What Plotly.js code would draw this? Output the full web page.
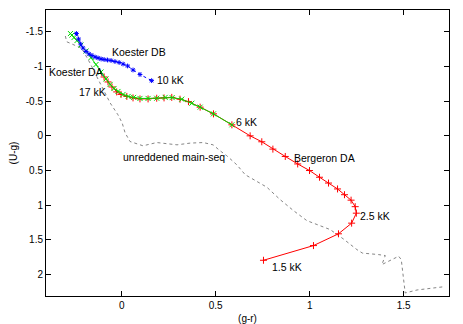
<!DOCTYPE html>
<html>
<head>
<meta charset="utf-8">
<script src="https://cdn.plot.ly/plotly-3.0.1.min.js"></script>
<style>
  html, body { margin: 0; padding: 0; background: #fff; }
  #plot { width: 463px; height: 324px; }
</style>
</head>
<body>
<div id="plot"></div>
<script>
// unreddened main sequence
var msGR = [-0.300, -0.293, -0.213, -0.169, -0.116, -0.062, -0.020, 0.002, 0.018, 0.044, 0.113, 0.186,
            0.294, 0.364, 0.433, 0.486, 0.523, 0.559, 0.612, 0.657, 0.772, 0.843, 0.914, 0.985, 1.109,
            1.180, 1.251, 1.280, 1.366, 1.402, 1.384, 1.473, 1.487, 1.508, 1.571, 1.642, 1.711];
var msUG = [-1.441, -1.359, -1.264, -1.052, -0.764, -0.476, -0.303, -0.187, -0.043, 0.082, 0.144, 0.097,
            0.130, 0.105, 0.097, 0.130, 0.216, 0.288, 0.418, 0.562, 0.742, 0.922, 1.081, 1.225, 1.354,
            1.491, 1.643, 1.693, 1.715, 1.729, 1.859, 1.739, 1.787, 2.269, 2.226, 2.205, 2.180];

// Koester DB
var dbGR = [-0.241, -0.230, -0.219, -0.206, -0.190, -0.174, -0.158, -0.142, -0.126, -0.110,
            -0.094, -0.076, -0.057, -0.036, -0.014, 0.007, 0.031, 0.060, 0.097, 0.159];
var dbUG = [-1.477, -1.398, -1.326, -1.268, -1.218, -1.182, -1.160, -1.138, -1.124, -1.110,
            -1.102, -1.095, -1.088, -1.073, -1.059, -1.037, -1.009, -0.951, -0.886, -0.797];

// Koester DA
var daGR = [-0.273, -0.265, -0.254, -0.238, -0.217, -0.190, -0.163, -0.137, -0.110, -0.084, -0.062,
            -0.041, -0.020, 0.007, 0.034, 0.063, 0.097, 0.140, 0.186, 0.231, 0.268, 0.319, 0.373,
            0.417, 0.488, 0.586];
var daUG = [-1.477, -1.455, -1.419, -1.376, -1.311, -1.225, -1.131, -1.030, -0.922, -0.821, -0.742,
            -0.684, -0.641, -0.598, -0.569, -0.555, -0.540, -0.540, -0.543, -0.555, -0.552, -0.529,
            -0.471, -0.414, -0.317, -0.159];

// Bergeron DA
var bgGR = [-0.094, -0.073, -0.052, -0.027, -0.004, 0.027, 0.060, 0.097, 0.140, 0.186, 0.225, 0.266,
            0.310, 0.355, 0.417, 0.488, 0.586, 0.683, 0.745, 0.804, 0.870, 0.936, 0.999, 1.052,
            1.100, 1.148, 1.185, 1.220, 1.242, 1.248, 1.223, 1.153, 1.020, 0.754];
var bgUG = [-0.850, -0.778, -0.706, -0.634, -0.598, -0.569, -0.548, -0.533, -0.533, -0.543, -0.548,
            -0.555, -0.529, -0.494, -0.414, -0.317, -0.159, 0.000, 0.086, 0.192, 0.298, 0.406, 0.501,
            0.598, 0.682, 0.767, 0.850, 0.929, 1.023, 1.117, 1.261, 1.415, 1.585, 1.797];

var labelText = ["Koester DB", "Koester DA", "17 kK", "10 kK", "6 kK",
                 "unreddened main-seq", "Bergeron DA", "2.5 kK", "1.5 kK"];
var labelX = [-0.062, -0.398, -0.238, 0.177, 0.598, -0.003, 0.907, 1.259, 0.790];
var labelY = [-1.21, -0.922, -0.634, -0.807, -0.202, 0.303, 0.317, 1.153, 1.888];

var traces = [
  {x: msGR, y: msUG, mode: "lines", type: "scatter",
   line: {color: "#666", width: 0.8, dash: "dot"}},
  {x: bgGR, y: bgUG, mode: "lines+markers", type: "scatter",
   line: {color: "#ff0000", width: 1},
   marker: {symbol: "cross-thin-open", size: 5, line: {color: "#ff0000", width: 1}}},
  {x: daGR, y: daUG, mode: "lines+markers", type: "scatter",
   line: {color: "#00dd00", width: 1},
   marker: {symbol: "x-thin-open", size: 5, line: {color: "#00dd00", width: 1}}},
  {x: dbGR, y: dbUG, mode: "lines+markers", type: "scatter",
   line: {color: "#0000ff", width: 1, dash: "dot"},
   marker: {symbol: "asterisk-open", size: 4, line: {color: "#0000ff", width: 1}}}
];

var annotations = labelText.map(function (t, i) {
  return {x: labelX[i], y: labelY[i], text: t, showarrow: false,
          xanchor: "left", yanchor: "middle", font: {size: 10.5, color: "#000"}};
});

var axisStyle = {
  showline: true, linecolor: "#000", linewidth: 1, mirror: "ticks",
  ticks: "inside", ticklen: 5, tickcolor: "#000",
  showgrid: false, zeroline: false,
  tickfont: {size: 10, color: "#000"}
};

var layout = {
  width: 463, height: 324,
  margin: {l: 46, r: 14, t: 10, b: 28},
  showlegend: false,
  font: {family: "Liberation Sans, Arial, sans-serif", color: "#000"},
  paper_bgcolor: "#fff", plot_bgcolor: "#fff",
  xaxis: Object.assign({}, axisStyle, {
    range: [-0.403, 1.741], tickvals: [0, 0.5, 1, 1.5], ticktext: ["0", "0.5", "1", "1.5"],
    title: {text: "(g-r)", font: {size: 10}, standoff: 4}
  }),
  yaxis: Object.assign({}, axisStyle, {
    range: [2.313, -1.817], tickvals: [-1.5, -1, -0.5, 0, 0.5, 1, 1.5, 2],
    ticktext: ["-1.5", "-1", "-0.5", "0", "0.5", "1", "1.5", "2"],
    title: {text: "(U-g)", font: {size: 10}, standoff: 6}
  }),
  annotations: annotations
};

Plotly.newPlot("plot", traces, layout, {displayModeBar: false, staticPlot: true});
</script>
</body>
</html>
